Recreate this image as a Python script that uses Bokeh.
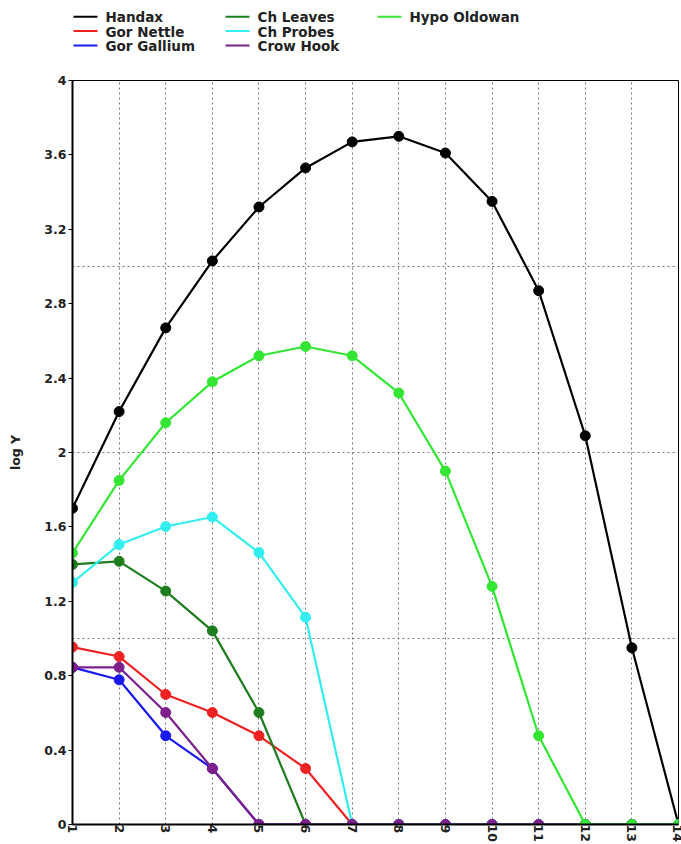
from bokeh.plotting import figure
from bokeh.layouts import column
from bokeh.models import FixedTicker, CustomJSTickFormatter
from bokeh.core.properties import value
from bokeh.embed import file_html
from bokeh.resources import INLINE

x = list(range(1, 15))
y_ticks = [0, 0.4, 0.8, 1.2, 1.6, 2.0, 2.4, 2.8, 3.2, 3.6, 4.0]
y_grid = [1, 2, 3]

series_names = ["Handax", "Gor Nettle", "Gor Gallium", "Ch Leaves", "Ch Probes", "Crow Hook", "Hypo Oldowan"]
handax = [1.70, 2.22, 2.67, 3.03, 3.32, 3.53, 3.67, 3.70, 3.61, 3.35, 2.87, 2.09, 0.95, 0.0]
gor_nettle = [0.954, 0.903, 0.699, 0.602, 0.477, 0.301, 0, 0, 0, 0, 0, 0, 0, 0]
gor_gallium = [0.845, 0.778, 0.477, 0.301, 0, 0, 0, 0, 0, 0, 0, 0, 0, 0]
ch_leaves = [1.398, 1.415, 1.255, 1.041, 0.602, 0, 0, 0, 0, 0, 0, 0, 0, 0]
ch_probes = [1.301, 1.505, 1.602, 1.653, 1.462, 1.114, 0, 0, 0, 0, 0, 0, 0, 0]
crow_hook = [0.845, 0.845, 0.602, 0.301, 0, 0, 0, 0, 0, 0, 0, 0, 0, 0]
hypo_oldowan = [1.46, 1.85, 2.16, 2.38, 2.52, 2.57, 2.52, 2.32, 1.90, 1.28, 0.477, 0, 0, 0]

colors = ["#000000", "#ee2222", "#1a1aee", "#1e7d1e", "#33eeee", "#7d1f8c", "#33e633"]
all_series = [handax, gor_nettle, gor_gallium, ch_leaves, ch_probes, crow_hook, hypo_oldowan]

W = 681
BORDER_L, BORDER_R = 72, 3

# ---- legend strip: a small figure whose ranges map onto screen pixels ----
# (column layouts align the frames, so its frame spans the main frame's width)
LH = 72
lf = figure(width=W, height=LH, output_backend="svg", toolbar_location=None,
            x_axis_type=None, y_axis_type=None,
            min_border=0, min_border_left=0, min_border_right=0,
            min_border_top=0, min_border_bottom=0,
            x_range=(BORDER_L, W - BORDER_R), y_range=(LH, 0))
lf.outline_line_color = None
lf.grid.visible = False
col_w, row_h, x_start, y_start, glyph_w, standoff = 152, 14.3, 73, 16.3, 24, 8
lx0, lx1, ly, tx = [], [], [], []
for i in range(len(series_names)):
    c, r = divmod(i, 3)
    x0 = x_start + c * col_w
    lx0.append(x0)
    lx1.append(x0 + glyph_w)
    ly.append(y_start + r * row_h)
    tx.append(x0 + glyph_w + standoff)
lf.segment(x0=lx0, y0=ly, x1=lx1, y1=ly, line_color=colors, line_width=2)
lf.text(x=tx, y=[v + 0.5 for v in ly], text=series_names, text_baseline="middle",
        text_align="left", text_font=value("DejaVu Sans"), text_font_style="bold",
        text_font_size="13.5px", text_color="#222222")

# ---- main chart ----
p = figure(width=W, height=772, output_backend="svg", toolbar_location=None,
           x_range=(1, 14), y_range=(0, 4),
           min_border_left=BORDER_L, min_border_right=BORDER_R, min_border_top=8, min_border_bottom=18)

for name, ys, c in zip(series_names, all_series, colors):
    p.line(x, ys, line_color=c, line_width=2.2)
    p.scatter(x, ys, size=10, fill_color=c, line_color=c)

p.outline_line_color = "black"
p.outline_line_width = 1
p.background_fill_color = "white"
p.border_fill_color = "white"

p.xaxis.ticker = FixedTicker(ticks=x)
p.xaxis.major_label_orientation = "vertical"
p.xaxis.major_tick_out = 0
p.xaxis.major_tick_in = 0
p.xaxis.minor_tick_out = 0
p.xaxis.minor_tick_in = 0
p.xaxis.major_label_standoff = 0
p.xaxis.major_label_text_font = "DejaVu Sans"
p.xaxis.major_label_text_font_style = "bold"
p.xaxis.major_label_text_font_size = "12.5px"
p.xaxis.major_label_text_color = "#222222"
p.xaxis.axis_line_color = "black"
p.xaxis.axis_line_width = 2

p.yaxis.ticker = FixedTicker(ticks=y_ticks)
p.yaxis.formatter = CustomJSTickFormatter(code="return String(Math.round(tick*10)/10);")
p.yaxis.major_tick_out = 4
p.yaxis.major_tick_in = 0
p.yaxis.minor_tick_out = 0
p.yaxis.minor_tick_in = 0
p.yaxis.major_label_standoff = 2
p.yaxis.major_label_text_font = "DejaVu Sans"
p.yaxis.major_label_text_font_style = "bold"
p.yaxis.major_label_text_font_size = "12.5px"
p.yaxis.major_label_text_color = "#222222"
p.yaxis.axis_line_color = "black"
p.yaxis.axis_line_width = 2
p.yaxis.axis_label = "log Y"
p.yaxis.axis_label_text_font = "DejaVu Sans"
p.yaxis.axis_label_text_font_style = "bold"
p.yaxis.axis_label_text_font_size = "12.5px"
p.yaxis.axis_label_text_color = "#222222"
p.yaxis.axis_label_standoff = 18

p.xgrid.ticker = FixedTicker(ticks=x)
p.xgrid.grid_line_color = "#777777"
p.xgrid.grid_line_dash = "2 3"
p.xgrid.grid_line_width = 1
p.ygrid.ticker = FixedTicker(ticks=y_grid)
p.ygrid.grid_line_color = "#777777"
p.ygrid.grid_line_dash = "2 3"
p.ygrid.grid_line_width = 1

layout = column(lf, p, spacing=0)
open("out.html", "w").write(file_html(layout, INLINE))
